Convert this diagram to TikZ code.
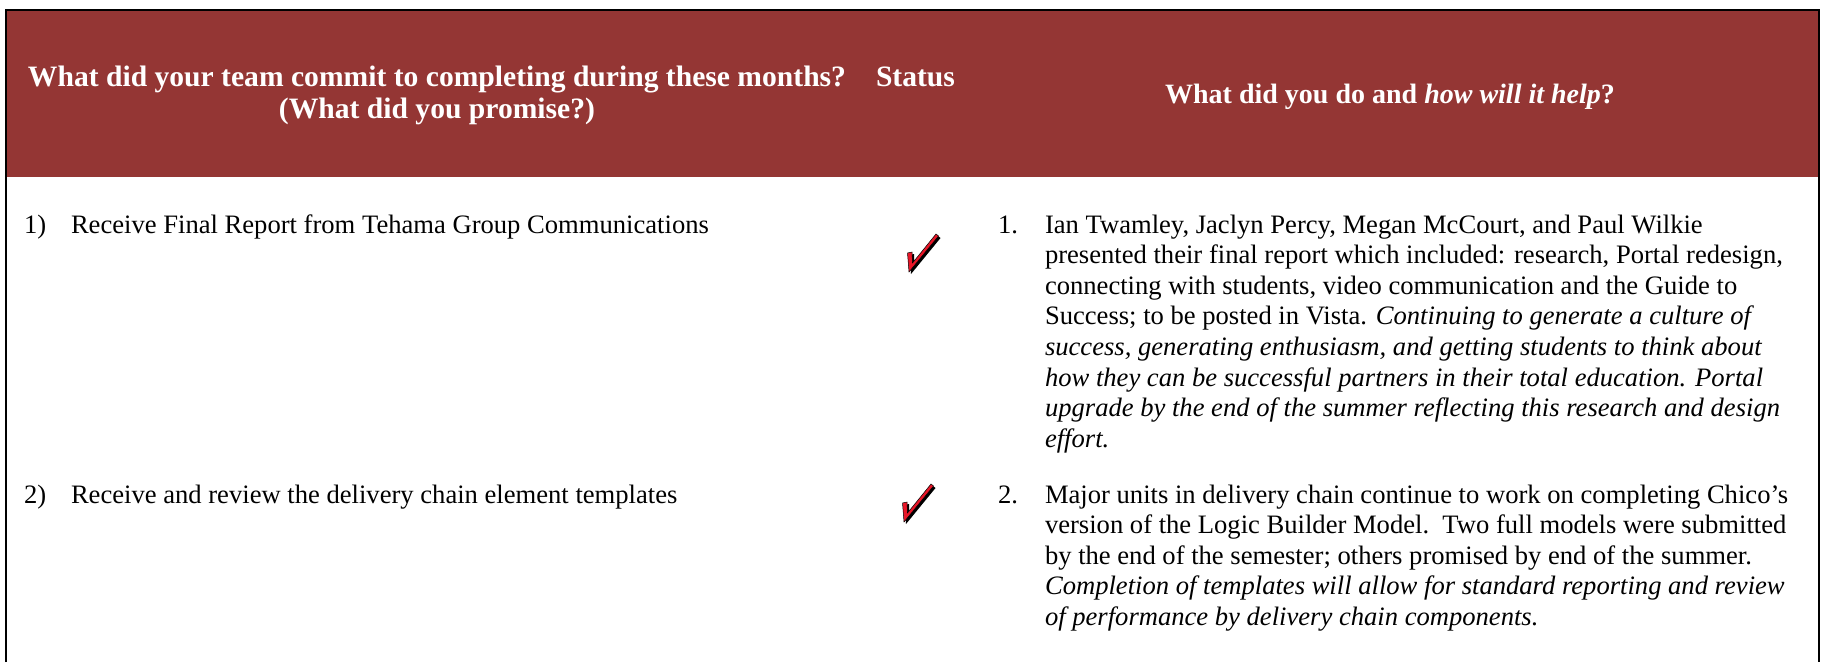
\documentclass[tikz,border=0pt]{standalone}
\usepackage{fontspec}
\setmainfont{Liberation Serif}
\definecolor{hdr}{RGB}{148,54,52}
\definecolor{tickred}{RGB}{232,22,40}
\begin{document}
\begin{tikzpicture}[x=1pt,y=-1pt,
  every node/.style={inner sep=0pt,outer sep=0pt},
  body/.style={font=\fontsize{26.6}{30.6}\selectfont,align=left,anchor=north west},
  hdrtext/.style={font=\fontsize{29.6}{32}\selectfont\bfseries,text=white},
  redtick/.pic={
    \fill[black] (2,2) -- (0.5,-17) -- (5,-18) -- (5.5,-7) -- (29,-36) -- (31.5,-34) -- cycle;
    \fill[tickred,draw=black,line width=0.5pt] (0,0) -- (-1.5,-19) -- (3,-20) -- (3.5,-9) -- (27,-38) -- (29.5,-36) -- cycle;
  }]
\useasboundingbox (0,0) rectangle (1826,662);
\fill[hdr] (6,10) rectangle (1819,177);
\draw[line width=2pt] (6,662) -- (6,10) -- (1819,10) -- (1819,662);

\node[hdrtext,align=center,anchor=north] (h1) at (437,64) {\strut What did your team commit to completing during these months?\\(What did you promise?)};
\node[hdrtext,anchor=base west] (h2) at (876,86.5) {Status};
\node[hdrtext,font=\fontsize{28}{32}\selectfont\bfseries,anchor=base] (h3) at (1390,103.5) {What did you do and \textit{how will it help}?};

\node[body] (n1) at (24,211.6) {\strut 1)};
\node[body] (t1) at (71,211.6) {\strut Receive Final Report from Tehama Group Communications};
\node[body] (n2) at (24,481.6) {\strut 2)};
\node[body] (t2) at (71,481.6) {\strut Receive and review the delivery chain element templates};

\node[body] (m1) at (998,211.6) {\strut 1.};
\node[body] (d1) at (1045,211.6) {\strut Ian Twamley, Jaclyn Percy, Megan McCourt, and Paul Wilkie\\
presented their final report which included: research, Portal redesign,\\
connecting with students, video communication and the Guide to\\
Success; to be posted in Vista. \textit{Continuing to generate a culture of}\\
\textit{success, generating enthusiasm, and getting students to think about}\\
\textit{how they can be successful partners in their total education. Portal}\\
\textit{upgrade by the end of the summer reflecting this research and design}\\
\textit{effort.}};

\node[body] (m2) at (998,481.6) {\strut 2.};
\node[body] (d2) at (1045,481.6) {\strut Major units in delivery chain continue to work on completing Chico’s\\
version of the Logic Builder Model.\ \ Two full models were submitted\\
by the end of the semester; others promised by end of the summer.\\
\textit{Completion of templates will allow for standard reporting and review}\\
\textit{of performance by delivery chain components.}};

\pic at (909,272) {redtick};
\pic at (904,522) {redtick};
\end{tikzpicture}
\end{document}
